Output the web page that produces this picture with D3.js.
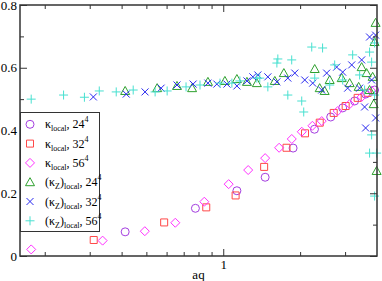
<!DOCTYPE html>
<html>
<head>
<meta charset="utf-8">
<script src="https://cdn.jsdelivr.net/npm/d3@7"></script>
<style>
  body { margin: 0; background: #fff; }
  svg { display: block; font-family: "Liberation Serif", "DejaVu Serif", serif; }
</style>
</head>
<body>
<div id="chart"></div>
<script>
// kappa_local, lower curve
const kapLocal24 = [[0.413,0.077],[0.778,0.152],[1.131,0.208],[1.459,0.251],[1.877,0.344],[2.276,0.404],
  [2.635,0.443],[2.935,0.472],[3.268,0.494],[3.610,0.516],[3.914,0.529]];
const kapLocal32 = [[0.311,0.051],[0.587,0.107],[0.858,0.155],[1.118,0.193],[1.446,0.284],[1.769,0.345],
  [2.09,0.391],[2.387,0.425],[2.707,0.456],[3.015,0.478],[3.360,0.504],[3.676,0.520]];
const kapLocal56 = [[0.177,0.021],[0.337,0.049],[0.493,0.079],[0.649,0.106],[0.843,0.173],[1.05,0.229],
  [1.252,0.274],[1.459,0.312],[1.655,0.345],[1.855,0.373],[2.03,0.396],[2.234,0.415],[2.430,0.430],
  [2.806,0.462],[3.126,0.484],[3.483,0.507],[3.811,0.526]];
// (kappa_Z)_local, upper band
const kapZ24 = [[0.413,0.526],[0.551,0.535],[0.659,0.542],[0.755,0.535],[0.871,0.555],[1.015,0.558],
  [1.131,0.564],[1.238,0.555],[1.354,0.551],[1.592,0.558],[1.727,0.583],[2.281,0.596],[2.386,0.535],
  [2.495,0.526],[2.611,0.561],[2.910,0.567],[3.126,0.551],[3.39,0.539],[3.483,0.602],[3.642,0.583],
  [3.846,0.571],[3.741,0.529],[3.950,0.743],[3.914,0.682],[3.881,0.484],[3.986,0.271]];
const kapZ32 = [[0.310,0.507],[0.417,0.516],[0.494,0.523],[0.571,0.535],[0.659,0.545],[0.762,0.548],
  [0.871,0.551],[0.944,0.548],[1.034,0.548],[1.131,0.542],[1.238,0.558],[1.306,0.571],[1.366,0.577],
  [1.495,0.571],[1.622,0.555],[1.790,0.567],[1.906,0.583],[2.085,0.561],[2.24,0.551],[2.430,0.529],
  [2.541,0.583],[2.780,0.602],[2.935,0.586],[3.07,0.535],[3.184,0.609],[3.420,0.535],[3.483,0.625],
  [3.741,0.698],[3.950,0.704],[3.577,0.475],[3.610,0.408],[3.950,0.440],[3.811,0.561]];
const kapZ56 = [[0.177,0.500],[0.237,0.513],[0.286,0.506],[0.327,0.526],[0.381,0.523],[0.444,0.529],
  [0.541,0.523],[0.603,0.526],[0.715,0.539],[0.811,0.545],[0.971,0.551],[1.081,0.551],[1.162,0.558],
  [1.354,0.567],[1.390,0.567],[1.495,0.539],[1.622,0.615],[1.636,0.628],[1.854,0.625],[1.790,0.513],
  [2.029,0.494],[2.066,0.459],[2.221,0.666],[2.449,0.663],[2.281,0.567],[2.611,0.545],[2.731,0.609],
  [2.935,0.561],[3.212,0.641],[3.420,0.577],[3.577,0.529],[3.741,0.650],[3.811,0.618],[3.914,0.679],
  [3.914,0.513],[3.811,0.386],[3.741,0.328],[3.986,0.328],[3.914,0.191]];

const xMajor = [1];
const xMinor = [0.2,0.3,0.4,0.5,0.6,0.7,0.8,0.9,2,3];
const yMajor = [0,0.2,0.4,0.6,0.8];
const yMinor = [0.1,0.3,0.5,0.7];

const series = [
  {data: kapLocal24, shape: 'circle',   color: '#a43ee0', z: false, L: '24'},
  {data: kapLocal32, shape: 'square',   color: '#ff4848', z: false, L: '32'},
  {data: kapLocal56, shape: 'diamond',  color: '#ff30ff', z: false, L: '56'},
  {data: kapZ24,     shape: 'triangle', color: '#2ea02e', z: true,  L: '24'},
  {data: kapZ32,     shape: 'cross',    color: '#2828f0', z: true,  L: '32'},
  {data: kapZ56,     shape: 'plus',     color: '#48e0d0', z: true,  L: '56'}
];

const W = 382, H = 281;
const plotL = 20, plotR = 377, plotT = 5, plotB = 256;

const x = d3.scaleLog().domain([0.16, 4]).range([plotL, plotR]);
const y = d3.scaleLinear().domain([0, 0.8]).range([plotB, plotT]);

function markerPath(shape) {
  const p = d3.path();
  if (shape === 'circle') { p.moveTo(4, 0); p.arc(0, 0, 4, 0, 2 * Math.PI); }
  else if (shape === 'square') { p.rect(-3.5, -3.5, 7, 7); }
  else if (shape === 'diamond') { p.moveTo(0,-4.5); p.lineTo(4.5,0); p.lineTo(0,4.5); p.lineTo(-4.5,0); p.closePath(); }
  else if (shape === 'triangle') { p.moveTo(0,-4.5); p.lineTo(4.5,3.5); p.lineTo(-4.5,3.5); p.closePath(); }
  else if (shape === 'cross') { p.moveTo(-3.5,-3.5); p.lineTo(3.5,3.5); p.moveTo(-3.5,3.5); p.lineTo(3.5,-3.5); }
  else if (shape === 'plus') { p.moveTo(-4.5,0); p.lineTo(4.5,0); p.moveTo(0,-4.5); p.lineTo(0,4.5); }
  return p.toString();
}

const svg = d3.select('#chart').append('svg').attr('width', W).attr('height', H);

// points
series.forEach(s => {
  svg.append('g').selectAll('path')
    .data(s.data)
    .join('path')
    .attr('transform', d => `translate(${x(d[0])},${y(d[1])})`)
    .attr('d', markerPath(s.shape))
    .attr('fill', 'none')
    .attr('stroke', s.color)
    .attr('stroke-width', 1);
});

// axes
function styleAxis(g) {
  g.select('.domain').remove();
  g.selectAll('.tick line').attr('stroke', '#333');
  g.selectAll('.tick text').attr('font-family', '"Liberation Serif", serif').attr('font-size', 13).attr('fill', '#000');
}
svg.append('g').attr('transform', `translate(0,${plotB})`)
  .call(d3.axisBottom(x).tickValues(xMajor).tickSize(-7).tickPadding(4).tickFormat(d3.format('d'))).call(styleAxis);
svg.append('g').attr('transform', `translate(0,${plotB})`)
  .call(d3.axisBottom(x).tickValues(xMinor).tickSize(-4).tickFormat('')).call(styleAxis);
svg.append('g').attr('transform', `translate(0,${plotT})`)
  .call(d3.axisTop(x).tickValues(xMajor).tickSize(-7).tickFormat('')).call(styleAxis);
svg.append('g').attr('transform', `translate(0,${plotT})`)
  .call(d3.axisTop(x).tickValues(xMinor).tickSize(-4).tickFormat('')).call(styleAxis);
svg.append('g').attr('transform', `translate(${plotL},0)`)
  .call(d3.axisLeft(y).tickValues(yMajor).tickSize(-7).tickPadding(3).tickFormat(d => d === 0 ? '0' : d3.format('.1f')(d))).call(styleAxis);
svg.append('g').attr('transform', `translate(${plotL},0)`)
  .call(d3.axisLeft(y).tickValues(yMinor).tickSize(-4).tickFormat('')).call(styleAxis);
svg.append('g').attr('transform', `translate(${plotR},0)`)
  .call(d3.axisRight(y).tickValues(yMajor).tickSize(-7).tickFormat('')).call(styleAxis);
svg.append('g').attr('transform', `translate(${plotR},0)`)
  .call(d3.axisRight(y).tickValues(yMinor).tickSize(-4).tickFormat('')).call(styleAxis);

svg.append('rect')
  .attr('x', plotL).attr('y', plotT).attr('width', plotR - plotL).attr('height', plotB - plotT)
  .attr('fill', 'none').attr('stroke', '#333').attr('stroke-width', 1.5);

svg.append('text').attr('x', (plotL + plotR) / 2).attr('y', 279)
  .attr('text-anchor', 'middle').attr('font-size', 13).text('aq');

// legend
const legend = svg.append('g');
legend.append('rect').attr('x', 20.5).attr('y', 112.5).attr('width', 79).attr('height', 119)
  .attr('fill', '#fff').attr('stroke', '#333').attr('stroke-width', 1);
series.forEach((s, i) => {
  const cy = 124.3 + i * 19.3;
  legend.append('path').attr('transform', `translate(30,${cy})`)
    .attr('d', markerPath(s.shape)).attr('fill', 'none').attr('stroke', s.color).attr('stroke-width', 1);
  const t = legend.append('text').attr('x', 45).attr('y', cy + 4).attr('font-size', 12);
  if (s.z) {
    t.append('tspan').text('(κ');
    t.append('tspan').attr('font-size', 8).attr('dy', 3).text('Z');
    t.append('tspan').attr('dy', -3).text(')');
    t.append('tspan').attr('font-size', 8).attr('dy', 3).text('local');
  } else {
    t.append('tspan').text('κ');
    t.append('tspan').attr('font-size', 8).attr('dy', 3).text('local');
  }
  t.append('tspan').attr('dy', -3).text(', ' + s.L);
  t.append('tspan').attr('font-size', 8).attr('dy', -6).text('4');
});
</script>
</body>
</html>
